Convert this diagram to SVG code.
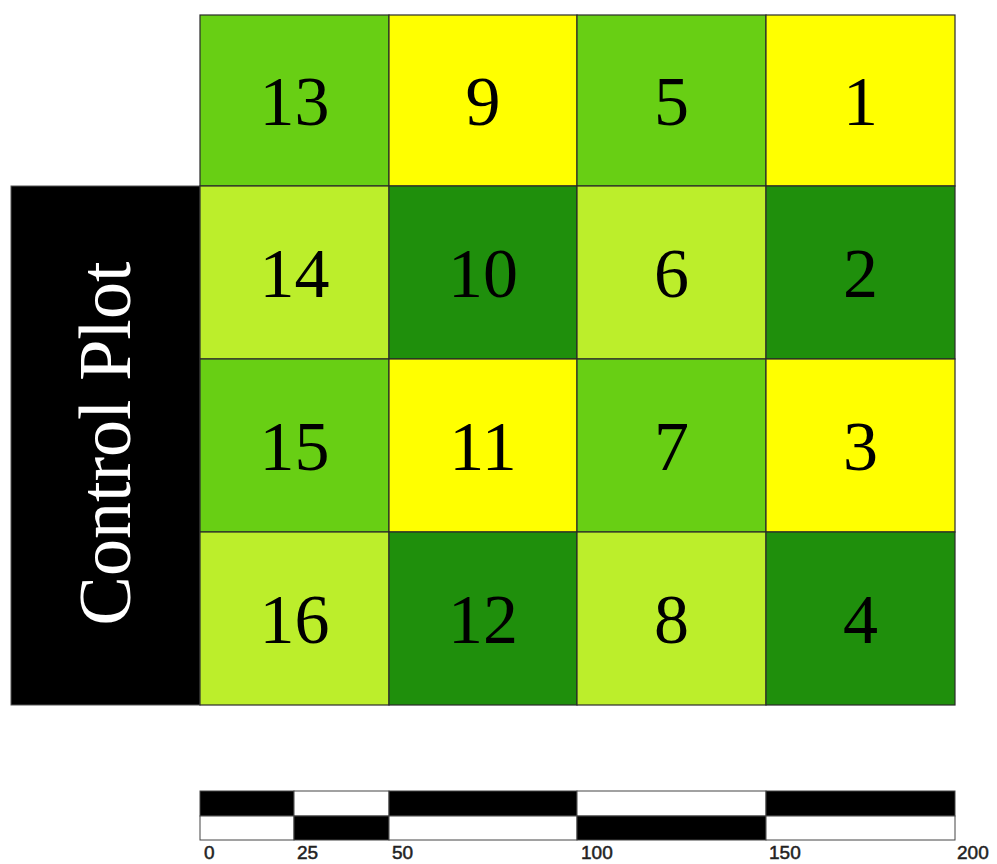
<svg xmlns="http://www.w3.org/2000/svg" width="997" height="864" viewBox="0 0 997 864">
<style>
.c{stroke:#2a2a2a;stroke-width:1.2}
.g1{fill:#68CF14}
.y{fill:#FFFF00}
.g2{fill:#BCEE2B}
.g3{fill:#1F8F0C}
.n{font-family:"Liberation Serif","Times New Roman",serif;font-size:70px;fill:#000;text-anchor:middle}
.s{font-family:"Liberation Sans",Arial,sans-serif;font-size:19px;fill:#222;stroke:#222;stroke-width:0.5}
.b{fill:#000;stroke:#444;stroke-width:1}
.w{fill:#fff;stroke:#444;stroke-width:1}
</style>
<rect width="997" height="864" fill="#fff"/>
<g id="control-plot">
<rect x="11" y="186" width="189" height="519" fill="#000" stroke="#555" stroke-width="1"/>
<text transform="translate(130,443.5) rotate(-90)" x="0" y="0" font-family="'Liberation Serif','Times New Roman',serif" font-size="74" fill="#fff" text-anchor="middle">Control Plot</text>
</g>
<g id="plot-13"><rect class="c g1" x="200" y="15" width="189" height="171"/><text class="n" x="294.5" y="125">13</text></g>
<g id="plot-9"><rect class="c y" x="389" y="15" width="188" height="171"/><text class="n" x="483" y="125">9</text></g>
<g id="plot-5"><rect class="c g1" x="577" y="15" width="189" height="171"/><text class="n" x="671.5" y="125">5</text></g>
<g id="plot-1"><rect class="c y" x="766" y="15" width="189" height="171"/><text class="n" x="860.5" y="125">1</text></g>
<g id="plot-14"><rect class="c g2" x="200" y="186" width="189" height="173"/><text class="n" x="294.5" y="297">14</text></g>
<g id="plot-10"><rect class="c g3" x="389" y="186" width="188" height="173"/><text class="n" x="483" y="297">10</text></g>
<g id="plot-6"><rect class="c g2" x="577" y="186" width="189" height="173"/><text class="n" x="671.5" y="297">6</text></g>
<g id="plot-2"><rect class="c g3" x="766" y="186" width="189" height="173"/><text class="n" x="860.5" y="297">2</text></g>
<g id="plot-15"><rect class="c g1" x="200" y="359" width="189" height="173"/><text class="n" x="294.5" y="470">15</text></g>
<g id="plot-11"><rect class="c y" x="389" y="359" width="188" height="173"/><text class="n" x="483" y="470">11</text></g>
<g id="plot-7"><rect class="c g1" x="577" y="359" width="189" height="173"/><text class="n" x="671.5" y="470">7</text></g>
<g id="plot-3"><rect class="c y" x="766" y="359" width="189" height="173"/><text class="n" x="860.5" y="470">3</text></g>
<g id="plot-16"><rect class="c g2" x="200" y="532" width="189" height="173"/><text class="n" x="294.5" y="643">16</text></g>
<g id="plot-12"><rect class="c g3" x="389" y="532" width="188" height="173"/><text class="n" x="483" y="643">12</text></g>
<g id="plot-8"><rect class="c g2" x="577" y="532" width="189" height="173"/><text class="n" x="671.5" y="643">8</text></g>
<g id="plot-4"><rect class="c g3" x="766" y="532" width="189" height="173"/><text class="n" x="860.5" y="643">4</text></g>
<g id="scale-bar">
<rect class="b" x="200" y="791" width="94" height="25"/>
<rect class="w" x="294" y="791" width="95" height="25"/>
<rect class="b" x="389" y="791" width="188" height="25"/>
<rect class="w" x="577" y="791" width="189" height="25"/>
<rect class="b" x="766" y="791" width="189" height="25"/>
<rect class="w" x="200" y="816" width="94" height="24"/>
<rect class="b" x="294" y="816" width="95" height="24"/>
<rect class="w" x="389" y="816" width="188" height="24"/>
<rect class="b" x="577" y="816" width="189" height="24"/>
<rect class="w" x="766" y="816" width="189" height="24"/>
<text class="s" x="204" y="859">0</text>
<text class="s" x="297" y="859">25</text>
<text class="s" x="392" y="859">50</text>
<text class="s" x="581" y="859">100</text>
<text class="s" x="769" y="859">150</text>
<text class="s" x="957" y="859">200</text>
</g>
</svg>
